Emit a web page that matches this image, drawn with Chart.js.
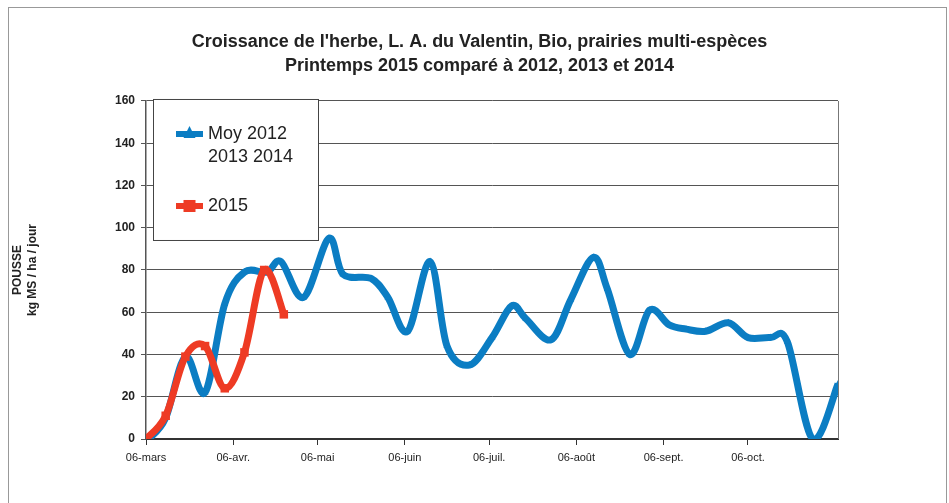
<!DOCTYPE html>
<html>
<head>
<meta charset="utf-8">
<script src="https://cdn.jsdelivr.net/npm/chart.js@4.4.1/dist/chart.umd.min.js"></script>
<style>
html, body { margin: 0; padding: 0; background: #fff; }
#wrap { width: 949px; height: 503px; }
</style>
</head>
<body>
<div id="wrap"><canvas id="herbeChart" width="949" height="503"></canvas></div>
<script>
// jours comptés depuis le 06-mars
const moyJours = [1, 7, 14, 21, 28, 35, 43, 48, 56, 65, 70, 80, 86, 93, 101, 107, 115, 123, 130, 135, 144, 151, 159, 164, 172, 179, 186, 192, 199, 207, 214, 222, 228, 237, 246];
const moyPousse = [0, 10, 39, 22, 64, 79, 79, 84, 67, 95, 78, 76, 67, 51, 84, 44, 35, 48, 63, 57, 47, 66, 86, 71, 40, 61, 54, 52, 51, 55, 48, 48, 46, 0, 26];

const jours2015 = [0, 7, 14, 21, 28, 35, 42, 49];
const pousse2015 = [0, 11, 39, 44, 24, 41, 80, 59];

const moisJours = [0, 31, 61, 92, 122, 153, 184, 214];
const moisLabels = ['06-mars', '06-avr.', '06-mai', '06-juin', '06-juil.', '06-août', '06-sept.', '06-oct.'];

const BLEU = '#0b7dc3';
const ROUGE = '#ee3b24';

Chart.defaults.font.family = "'Liberation Sans', Arial, sans-serif";

const toPoints = (xs, ys) => xs.map((x, i) => ({ x: x, y: ys[i] }));

// lissage façon Excel (Catmull-Rom uniforme, 1/6)
const lissage = {
    id: 'lissage',
    beforeDatasetsDraw(chart) {
        chart.getSortedVisibleDatasetMetas().forEach(meta => {
            const pts = meta.data;
            pts.forEach((p, i) => {
                const prev = pts[i - 1] || p;
                const next = pts[i + 1] || p;
                const dx = (next.x - prev.x) / 6;
                const dy = (next.y - prev.y) / 6;
                p.cp1x = p.x - dx; p.cp1y = p.y - dy;
                p.cp2x = p.x + dx; p.cp2y = p.y + dy;
            });
            if (meta.dataset) {
                meta.dataset._pointsUpdated = true;
                meta.dataset._path = undefined;
            }
        });
    }
};

// cadre gris + bord droit du graphique
const cadre = {
    id: 'cadre',
    beforeDraw(chart) {
        const ctx = chart.ctx;
        ctx.save();
        ctx.fillStyle = '#fff';
        ctx.fillRect(0, 0, chart.width, chart.height);
        ctx.strokeStyle = '#999';
        ctx.lineWidth = 1;
        ctx.strokeRect(8.5, 7.5, 938, 510);
        ctx.restore();
    },
    afterDraw(chart) {
        const a = chart.chartArea;
        const ctx = chart.ctx;
        ctx.save();
        ctx.strokeStyle = '#777';
        ctx.lineWidth = 1;
        ctx.beginPath();
        ctx.moveTo(a.right + 0.5, a.top);
        ctx.lineTo(a.right + 0.5, a.bottom);
        ctx.stroke();
        ctx.restore();
    }
};

// légende dans un cadre, en haut à gauche
const legende = {
    id: 'legende',
    afterDatasetsDraw(chart) {
        const a = chart.chartArea;
        const ctx = chart.ctx;
        const x0 = a.left + 7, y0 = a.top - 2;
        ctx.save();
        ctx.fillStyle = '#fff';
        ctx.fillRect(x0, y0, 165, 141);
        ctx.strokeStyle = '#444';
        ctx.lineWidth = 1;
        ctx.strokeRect(x0 + 0.5, y0 + 0.5, 165, 141);

        const sx = x0 + 23, sw = 27;
        // bleu
        let y = y0 + 35;
        ctx.strokeStyle = BLEU;
        ctx.lineWidth = 6;
        ctx.beginPath(); ctx.moveTo(sx, y); ctx.lineTo(sx + sw, y); ctx.stroke();
        ctx.fillStyle = BLEU;
        ctx.beginPath();
        ctx.moveTo(sx + sw / 2, y - 8); ctx.lineTo(sx + sw / 2 + 6, y + 4); ctx.lineTo(sx + sw / 2 - 6, y + 4);
        ctx.closePath(); ctx.fill();
        // rouge
        let y2 = y0 + 107;
        ctx.strokeStyle = ROUGE;
        ctx.beginPath(); ctx.moveTo(sx, y2); ctx.lineTo(sx + sw, y2); ctx.stroke();
        ctx.fillStyle = ROUGE;
        ctx.fillRect(sx + sw / 2 - 6, y2 - 6, 12, 12);

        ctx.fillStyle = '#222';
        ctx.font = "18px 'Liberation Sans', Arial, sans-serif";
        ctx.textBaseline = 'middle';
        ctx.fillText('Moy 2012', sx + sw + 5, y);
        ctx.fillText('2013 2014', sx + sw + 5, y + 23);
        ctx.fillText('2015', sx + sw + 5, y2);
        ctx.restore();
    }
};

new Chart(document.getElementById('herbeChart'), {
    type: 'line',
    data: {
        datasets: [{
            label: '2015',
            data: toPoints(jours2015, pousse2015),
            borderColor: ROUGE,
            backgroundColor: ROUGE,
            borderWidth: 7,
            pointStyle: 'rect',
            pointRadius: 6,
            pointBorderWidth: 0,
            tension: 0.4,
            fill: false,
            order: 0
        }, {
            label: 'Moy 2012 2013 2014',
            data: toPoints(moyJours, moyPousse),
            borderColor: BLEU,
            backgroundColor: BLEU,
            borderWidth: 7,
            pointStyle: 'triangle',
            pointRadius: 4,
            pointBorderWidth: 0,
            tension: 0.4,
            fill: false,
            order: 1
        }]
    },
    options: {
        responsive: false,
        animation: false,
        layout: { padding: { left: 10, right: 0, top: 0, bottom: 0 } },
        plugins: {
            title: {
                display: true,
                text: ["Croissance de l'herbe, L. A. du Valentin, Bio, prairies multi-espèces", 'Printemps 2015 comparé à 2012, 2013 et 2014'],
                color: '#222',
                font: { size: 18, weight: 'bold', lineHeight: 1.333 },
                padding: { top: 30, bottom: 23 }
            },
            legend: { display: false },
            tooltip: { enabled: false }
        },
        scales: {
            x: {
                type: 'linear',
                min: 0,
                max: 246,
                afterBuildTicks: (s) => { s.ticks = moisJours.map(v => ({ value: v })); },
                ticks: {
                    autoSkip: false,
                    maxRotation: 0,
                    color: '#222',
                    font: { size: 11 },
                    padding: 6,
                    callback: (v, i) => moisLabels[i]
                },
                grid: { drawOnChartArea: false, tickLength: 6, color: '#333' },
                border: { color: '#333', width: 2 },
                afterFit: (s) => { s.height = 64; }
            },
            y: {
                min: 0,
                max: 160,
                ticks: { stepSize: 20, color: '#222', font: { size: 12, weight: 'bold' }, padding: 6 },
                grid: { color: '#555', tickLength: 5 },
                border: { color: '#555', width: 1.5 },
                title: {
                    display: true,
                    text: ['POUSSE', 'kg MS / ha / jour'],
                    color: '#222',
                    font: { size: 12, weight: 'bold', lineHeight: 1.25 },
                    padding: { top: 0, bottom: 0 }
                },
                afterFit: (s) => { s.width = 136; }
            },
            y2: {
                position: 'right',
                min: 0,
                max: 160,
                ticks: { display: false },
                grid: { drawOnChartArea: false, drawTicks: false },
                border: { display: false },
                afterFit: (s) => { s.width = 111; }
            }
        }
    },
    plugins: [lissage, cadre, legende]
});
</script>
</body>
</html>
